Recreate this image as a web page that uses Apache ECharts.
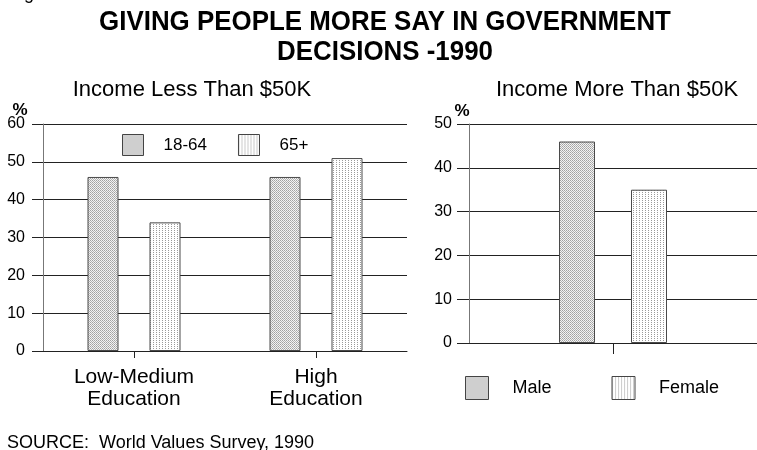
<!DOCTYPE html>
<html>
<head>
<meta charset="utf-8">
<script src="https://cdn.jsdelivr.net/npm/echarts@6/dist/echarts.min.js"></script>
<style>
html,body{margin:0;padding:0;background:#fff;}
#chart{width:757px;height:450px;}
</style>
</head>
<body>
<div id="chart"></div>
<script>
// ---- data ----
const leftCategories = ['Low-Medium\nEducation', 'High\nEducation'];
const age18to64 = [46, 46];
const age65plus = [34, 51];
const rightCategories = [''];
const maleValues = [46];
const femaleValues = [35];
const leftYMax = 60;
const rightYMax = 50;
const yStep = 10;

const FONT = '"Liberation Sans", Arial, sans-serif';

function makePattern(w, h, dots, bg) {
  const c = document.createElement('canvas');
  c.width = w; c.height = h;
  const ctx = c.getContext('2d');
  ctx.fillStyle = bg; ctx.fillRect(0, 0, w, h);
  dots.forEach(d => { ctx.fillStyle = d[2]; ctx.fillRect(d[0], d[1], 1, 1); });
  return { image: c, repeat: 'repeat' };
}
const densePattern = makePattern(2, 2, [[0,0,'#a2a2a2'],[1,1,'#b4b4b4']], '#f3f3f3');
const lightPattern = makePattern(3, 2, [[0,0,'#9a9a9a']], '#ffffff');

const gridColor = '#222';
const chart = echarts.init(document.getElementById('chart'), null, {renderer: 'canvas'});

const barBorder = { borderColor: '#4a4a4a', borderWidth: 1 };

const option = {
  animation: false,
  backgroundColor: '#fff',
  textStyle: { fontFamily: FONT, color: '#000' },
  graphic: [
    { type: 'text', x: 385, y: 37, scaleX: 0.925, style: { text: 'GIVING PEOPLE MORE SAY IN GOVERNMENT\nDECISIONS -1990', font: 'bold 28px ' + FONT, fill: '#000', align: 'center', verticalAlign: 'middle', lineHeight: 30 } },
    { type: 'text', x: 192, y: 90, style: { text: 'Income Less Than $50K', font: '22px ' + FONT, fill: '#000', align: 'center', verticalAlign: 'middle' } },
    { type: 'text', x: 617, y: 90, style: { text: 'Income More Than $50K', font: '22px ' + FONT, fill: '#000', align: 'center', verticalAlign: 'middle' } },
    { type: 'text', x: 20, y: 110, style: { text: '%', font: 'bold 17px ' + FONT, fill: '#000', align: 'center', verticalAlign: 'middle' } },
    { type: 'text', x: 462, y: 111, style: { text: '%', font: 'bold 17px ' + FONT, fill: '#000', align: 'center', verticalAlign: 'middle' } },
    { type: 'text', x: 7, y: 443, style: { text: 'SOURCE:  World Values Survey, 1990', font: '18px ' + FONT, fill: '#000', align: 'left', verticalAlign: 'middle' } },
    { type: 'text', x: 24, y: -6, style: { text: 'g', font: '18px ' + FONT, fill: '#000', align: 'left', verticalAlign: 'middle' } }
  ],
  legend: [
    {
      data: ['18-64', '65+'],
      left: 122, top: 134, padding: 0,
      itemWidth: 21, itemHeight: 21, itemGap: 31,
      icon: 'rect', selectedMode: false,
      itemStyle: { borderColor: '#444', borderWidth: 1 },
      textStyle: { fontSize: 17, color: '#000', fontFamily: FONT, padding: [0, 0, 0, 15] }
    },
    {
      data: ['Male', 'Female'],
      left: 465, top: 376, padding: 0,
      itemWidth: 23, itemHeight: 23, itemGap: 60,
      icon: 'rect', selectedMode: false,
      itemStyle: { borderColor: '#444', borderWidth: 1 },
      textStyle: { fontSize: 18, color: '#000', fontFamily: FONT, padding: [0, 0, 0, 19] }
    }
  ],
  grid: [
    { left: 43, right: 350, top: 124, bottom: 99 },
    { left: 469, right: -8, top: 124, bottom: 107 }
  ],
  xAxis: [
    {
      type: 'category', gridIndex: 0, data: leftCategories,
      axisLine: { show: true, lineStyle: { color: gridColor, width: 1 } },
      axisTick: { show: true, alignWithLabel: true, length: 7, lineStyle: { color: gridColor } },
      axisLabel: { fontSize: 21, lineHeight: 22, color: '#000', margin: 15, fontFamily: FONT },
      splitLine: { show: false }
    },
    {
      type: 'category', gridIndex: 1, data: rightCategories,
      axisLine: { show: true, lineStyle: { color: gridColor, width: 1 } },
      axisTick: { show: true, alignWithLabel: true, length: 11, lineStyle: { color: gridColor } },
      axisLabel: { show: false },
      splitLine: { show: false }
    }
  ],
  yAxis: [
    {
      type: 'value', gridIndex: 0, min: 0, max: leftYMax, interval: yStep,
      axisLine: { show: true, lineStyle: { color: '#777', width: 1 } },
      axisTick: { show: true, length: 11, lineStyle: { color: gridColor } },
      axisLabel: { fontSize: 16, color: '#000', margin: 18, fontFamily: FONT },
      splitLine: { show: true, lineStyle: { color: gridColor, width: 1 } }
    },
    {
      type: 'value', gridIndex: 1, min: 0, max: rightYMax, interval: yStep,
      axisLine: { show: true, lineStyle: { color: '#777', width: 1 } },
      axisTick: { show: true, length: 12, lineStyle: { color: gridColor } },
      axisLabel: { fontSize: 16, color: '#000', margin: 17, fontFamily: FONT },
      splitLine: { show: true, lineStyle: { color: gridColor, width: 1 } }
    }
  ],
  series: [
    { name: '18-64', type: 'bar', xAxisIndex: 0, yAxisIndex: 0, data: age18to64, barWidth: 31, barGap: '100%', itemStyle: Object.assign({ color: densePattern }, barBorder) },
    { name: '65+', type: 'bar', xAxisIndex: 0, yAxisIndex: 0, data: age65plus, barWidth: 31, barGap: '100%', itemStyle: Object.assign({ color: lightPattern }, barBorder) },
    { name: 'Male', type: 'bar', xAxisIndex: 1, yAxisIndex: 1, data: maleValues, barWidth: 36, barGap: '100%', itemStyle: Object.assign({ color: densePattern }, barBorder) },
    { name: 'Female', type: 'bar', xAxisIndex: 1, yAxisIndex: 1, data: femaleValues, barWidth: 36, barGap: '100%', itemStyle: Object.assign({ color: lightPattern }, barBorder) }
  ]
};
chart.setOption(option);
</script>
</body>
</html>
